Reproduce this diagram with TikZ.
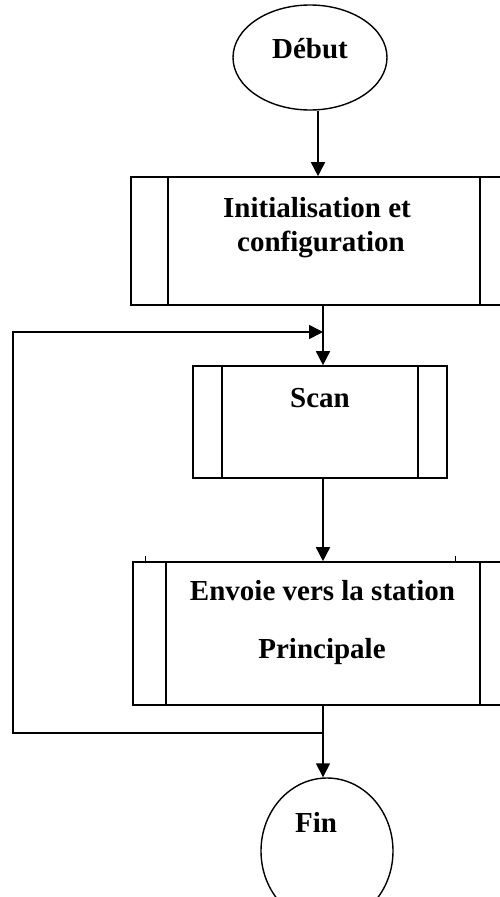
\documentclass[tikz,border=0pt]{standalone}
\usepackage{fontspec}
\setmainfont{Liberation Serif}
\usetikzlibrary{arrows.meta,shapes.geometric}

\tikzset{
  flowline/.style={line width=1.6pt},
  arr/.style={flowline,-{Triangle[length=14pt,width=14pt]}},
  terminal/.style={ellipse,draw,line width=1.4pt,inner sep=0pt},
  procbox/.style={rectangle,draw,line width=1.6pt,inner sep=0pt},
  label/.style={font=\fontsize{29}{34}\selectfont\bfseries,anchor=base,inner sep=0pt},
  tick/.style={line width=1pt}
}

\begin{document}
\begin{tikzpicture}[x=1pt,y=-1pt]
  \useasboundingbox (0,0) rectangle (500,897);
  \clip (0,0) rectangle (500,897);
  \fill[white] (0,0) rectangle (500,897);

  % terminals
  \node[terminal,minimum width=154pt,minimum height=105pt] (debut) at (310,57.5) {};
  \node[terminal,minimum width=132pt,minimum height=146pt] (fin) at (327,851) {};

  % predefined-process boxes
  \node[procbox,minimum width=386pt,minimum height=128pt] (init) at (324,241) {};
  \node[procbox,minimum width=254pt,minimum height=112pt] (scan) at (320,422) {};
  \node[procbox,minimum width=380pt,minimum height=143pt] (envoi) at (323,633.5) {};

  % side bars of the boxes
  \draw[flowline] ([xshift=38pt]init.north west) -- ([xshift=38pt]init.south west);
  \draw[flowline] ([xshift=-38pt]init.north east) -- ([xshift=-38pt]init.south east);
  \draw[flowline] ([xshift=30pt]scan.north west) -- ([xshift=30pt]scan.south west);
  \draw[flowline] ([xshift=-30pt]scan.north east) -- ([xshift=-30pt]scan.south east);
  \draw[flowline] ([xshift=34pt]envoi.north west) -- ([xshift=34pt]envoi.south west);
  \draw[flowline] ([xshift=-34pt]envoi.north east) -- ([xshift=-34pt]envoi.south east);

  % small ticks on top of the last box
  \coordinate (tk1) at (145,556);
  \coordinate (tk2) at (455,556);
  \draw[tick] (tk1) -- (tk1 |- envoi.north);
  \draw[tick] (tk2) -- (tk2 |- envoi.north);

  % texts
  \node[label] (tdebut) at (310,58) {Début};
  \node[label] (tinit1) at (317,217) {Initialisation et};
  \node[label] (tinit2) at (321,251) {configuration};
  \node[label] (tscan) at (320,407) {Scan};
  \node[label] (tenv1) at (322.5,600) {Envoie vers la station};
  \node[label] (tenv2) at (322,658) {Principale};
  \node[label] (tfin) at (316,832) {Fin};

  % connectors
  \coordinate (d0) at ([xshift=8pt]debut.south);
  \coordinate (j1) at (323,332);
  \coordinate (j2) at (323,733);
  \coordinate (loopc) at (13,332);

  \draw[arr] (d0) -- (d0 |- init.north);
  \draw[flowline] (init.south -| j1) -- (j1);
  \draw[arr] (j1) -- (j1 |- scan.north);
  \draw[arr] (scan.south -| j1) -- (j1 |- envoi.north);
  \draw[flowline] (envoi.south -| j2) -- (j2);
  \draw[arr] (j2) -- (j2 |- fin.north);
  \draw[arr] (j2) -| (loopc) -- (j1);
\end{tikzpicture}
\end{document}
